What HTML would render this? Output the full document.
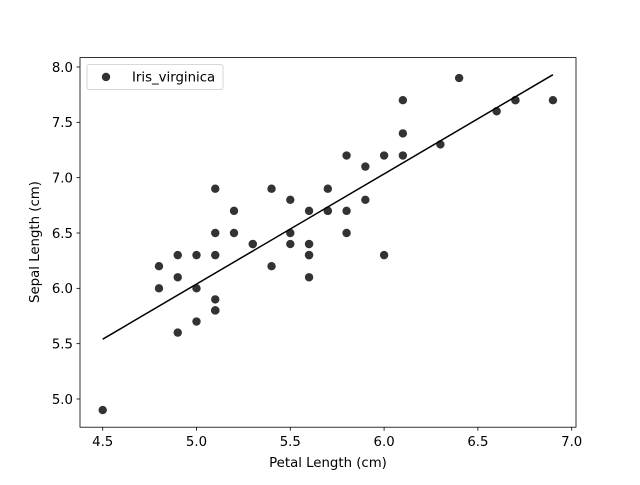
<!DOCTYPE html>
<html><head><meta charset="utf-8"><style>
body{margin:0;background:#fff;font-family:"Liberation Sans","DejaVu Sans",sans-serif}
svg text{font-family:"DejaVu Sans","Liberation Sans",sans-serif;font-size:13.3px;fill:#000}
</style></head><body>
<svg id="chart" width="640" height="480">
<rect width="640" height="480" fill="#fff"/>
<g id="marks"></g>
<rect x="80" y="57.6" width="496" height="369.6" fill="none" stroke="#000" stroke-width="0.8"/>
<g id="axes"></g>
<text x="328" y="467" text-anchor="middle">Petal Length (cm)</text>
<text transform="translate(39,242) rotate(-90)" text-anchor="middle">Sepal Length (cm)</text>
<g>
<rect x="87" y="64.5" width="136" height="25" rx="2" fill="#fff" stroke="#ccc" stroke-width="0.8"/>
<circle cx="106" cy="77" r="4.2" fill="#333"/>
<text x="132" y="81.5">Iris_virginica</text>
</g>
</svg>
<script>
const petalLength=[6.0,5.1,5.9,5.6,5.8,6.6,4.5,6.3,5.8,6.1,5.1,5.3,5.5,5.0,5.1,5.3,5.5,6.7,6.9,5.0,5.7,4.9,6.7,4.9,5.7,6.0,4.8,4.9,5.6,5.8,6.1,6.4,5.6,5.1,5.6,6.1,5.6,5.5,4.8,5.4,5.6,5.1,5.1,5.9,5.7,5.2,5.0,5.2,5.4,5.1];
const sepalLength=[6.3,5.8,7.1,6.3,6.5,7.6,4.9,7.3,6.7,7.2,6.5,6.4,6.8,5.7,5.8,6.4,6.5,7.7,7.7,6.0,6.9,5.6,7.7,6.3,6.7,7.2,6.2,6.1,6.4,7.2,7.4,7.9,6.4,6.3,6.1,7.7,6.3,6.4,6.0,6.9,6.7,6.9,5.8,6.8,6.7,6.7,6.3,6.5,6.2,5.9];
const xTicks=["4.5","5.0","5.5","6.0","6.5","7.0"];
const yTicks=["5.0","5.5","6.0","6.5","7.0","7.5","8.0"];
const NS="http://www.w3.org/2000/svg";
const xs=v=>102.7+(v-4.5)*187.6;
const ys=v=>399-(v-5)*110.67;
const marks=document.getElementById('marks'),axes=document.getElementById('axes');
function mk(t,a,p){const e=document.createElementNS(NS,t);for(const k in a)e.setAttribute(k,a[k]);p.appendChild(e);return e;}
petalLength.forEach((x,i)=>{
 const c=mk('circle',{cx:xs(x),cy:ys(sepalLength[i]),r:4.2,fill:'#333'},marks);
 
 
});
const n=petalLength.length;let mx=0,my=0;petalLength.forEach((x,i)=>{mx+=x;my+=sepalLength[i];});mx/=n;my/=n;
let sxy=0,sxx=0;petalLength.forEach((x,i)=>{sxy+=(x-mx)*(sepalLength[i]-my);sxx+=(x-mx)*(x-mx);});
const b=sxy/sxx,a=my-b*mx;const x0=Math.min(...petalLength),x1=Math.max(...petalLength);
const ln=mk('line',{x1:xs(x0),y1:ys(a+b*x0),x2:xs(x1),y2:ys(a+b*x1),stroke:'#000','stroke-width':1.5},marks);


xTicks.forEach(t=>{const x=xs(+t);
 mk('line',{x1:x,x2:x,y1:427.2,y2:430.7,stroke:'#000','stroke-width':0.8},axes);
 const e=mk('text',{x:x,y:446,'text-anchor':'middle'},axes);e.textContent=t;
 
 });
yTicks.forEach(t=>{const y=ys(+t);
 mk('line',{x1:76.5,x2:80,y1:y,y2:y,stroke:'#000','stroke-width':0.8},axes);
 const e=mk('text',{x:73,y:y+4.8,'text-anchor':'end'},axes);e.textContent=t;
 
 });
</script>
</body></html>
